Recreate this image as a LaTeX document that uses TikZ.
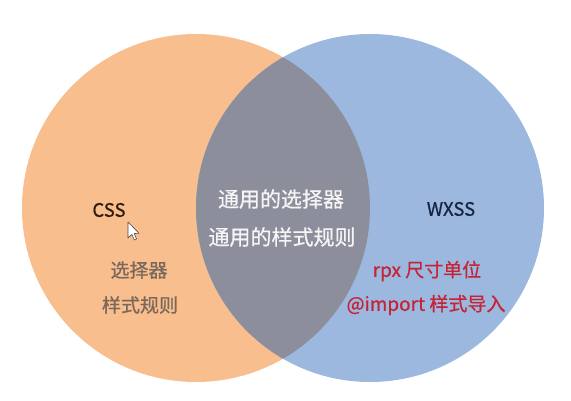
\documentclass[tikz,border=0pt]{standalone}
\usepackage{fontspec}
\setmainfont{Noto Sans CJK SC}[BoldFont={Noto Sans CJK SC}, BoldFeatures={FakeBold=0.7}]
\definecolor{orangefill}{RGB}{248,190,142}
\definecolor{bluefill}{RGB}{156,184,222}
\definecolor{overlapfill}{RGB}{141,142,156}
\definecolor{csscol}{RGB}{45,28,14}
\definecolor{wxsscol}{RGB}{25,36,66}
\definecolor{leftlab}{RGB}{122,104,90}
\definecolor{redlab}{RGB}{196,36,56}
\tikzset{
  lab/.style={font=\bfseries\fontsize{19}{19}\selectfont, inner sep=0pt, anchor=center},
  midlab/.style={font=\bfseries\fontsize{21}{21}\selectfont, inner sep=0pt, text=white!96!black, anchor=center},
  titlelab/.style={font=\bfseries\fontsize{18.5}{18.5}\selectfont, inner sep=0pt, anchor=center}
}
\begin{document}
\begin{tikzpicture}[x=1pt,y=-1pt]
\useasboundingbox (0,0) rectangle (571,401);
% circles
\fill[orangefill] (196,208) circle[radius=174pt];
\fill[bluefill] (370,208) circle[radius=174pt];
\begin{scope}
  \clip (196,208) circle[radius=174pt];
  \fill[overlapfill] (370,208) circle[radius=174pt];
\end{scope}
% left labels
\node[titlelab, text=csscol] (css) at (109,210) {CSS};
\node[lab, text=leftlab] (l1) at (139,270) {选择器};
\node[lab, text=leftlab] (l2) at (140,305) {样式规则};
% middle labels
\node[midlab] (m1) at (281,199) {通用的选择器};
\node[midlab] (m2) at (282,237) {通用的样式规则};
% right labels
\node[titlelab, text=wxsscol] (wxss) at (451,209) {WXSS};
\node[lab, text=redlab] (r1) at (427,271) {rpx 尺寸单位};
\node[lab, text=redlab] (r2) at (426,305) {@import 样式导入};
% cursor
\begin{scope}[shift={(128,222)}]
  \draw[fill=white, draw=black!70, line width=0.6pt, line join=round]
    (0,0) -- (0,16) -- (3.8,12.4) -- (6.4,18) -- (8.6,17) -- (6.1,11.6) -- (11,11.2) -- cycle;
\end{scope}
\end{tikzpicture}
\end{document}
